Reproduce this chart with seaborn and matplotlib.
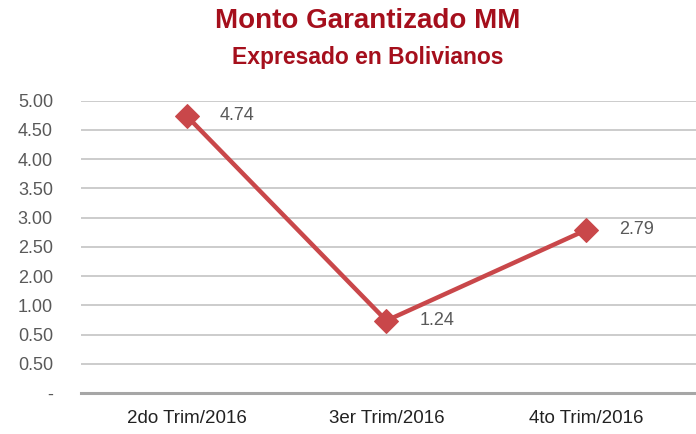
import matplotlib
matplotlib.use("Agg")
import matplotlib.pyplot as plt
import seaborn as sns
import pandas as pd
import numpy as np

periods = ["2do Trim/2016", "3er Trim/2016", "4to Trim/2016"]
montos = [4.74, 1.24, 2.79]
point_labels = ["4.74", "1.24", "2.79"]
ytick_labels = ["-", "0.50", "0.50", "1.00", "2.00", "2.50", "3.00", "3.50", "4.00", "4.50", "5.00"]

df = pd.DataFrame({"Periodo": periods, "Monto": montos})

sns.set_theme(style="white")
plt.rcParams['font.family'] = ['Liberation Sans', 'DejaVu Sans']

fig = plt.figure(figsize=(6.96, 4.34), dpi=100)
ax = fig.add_axes([0.116, 0.094, 0.884, 0.674])

sns.lineplot(data=df, x="Periodo", y="Monto", ax=ax, sort=False,
             color="#C9474A", linewidth=3.2, marker="D", markersize=12,
             markeredgecolor="#C9474A", zorder=3)

for i, (v, lab) in enumerate(zip(montos, point_labels)):
    ax.annotate(lab, (i, v), xytext=(24, 0), textcoords="offset points",
                ha="left", va="center", fontsize=13, color="#595959")

ax.set_ylim(0, 5)
ax.set_xlim(-0.53, 2.55)
ax.set_yticks(np.arange(0, 5.01, 0.5))
ax.set_yticklabels(ytick_labels)
ax.yaxis.grid(True, color="#BFBFBF", linewidth=1.1)
ax.set_axisbelow(True)
ax.tick_params(axis="y", length=0, pad=20, labelsize=13, labelcolor="#595959")
ax.tick_params(axis="x", length=0, pad=12, labelsize=13.5, labelcolor="#222222")
for s in ["top", "right", "left"]:
    ax.spines[s].set_visible(False)
ax.spines["bottom"].set_color("#A6A6A6")
ax.spines["bottom"].set_linewidth(2.2)
ax.set_xlabel("")
ax.set_ylabel("")

fig.text(0.528, 0.952, "Monto Garantizado MM", ha="center", va="center",
         fontsize=20, fontweight="bold", color="#A50F1C")
fig.text(0.528, 0.868, "Expresado en Bolivianos", ha="center", va="center",
         fontsize=16.5, fontweight="bold", color="#A50F1C")

fig.savefig("out.png", dpi=100)
